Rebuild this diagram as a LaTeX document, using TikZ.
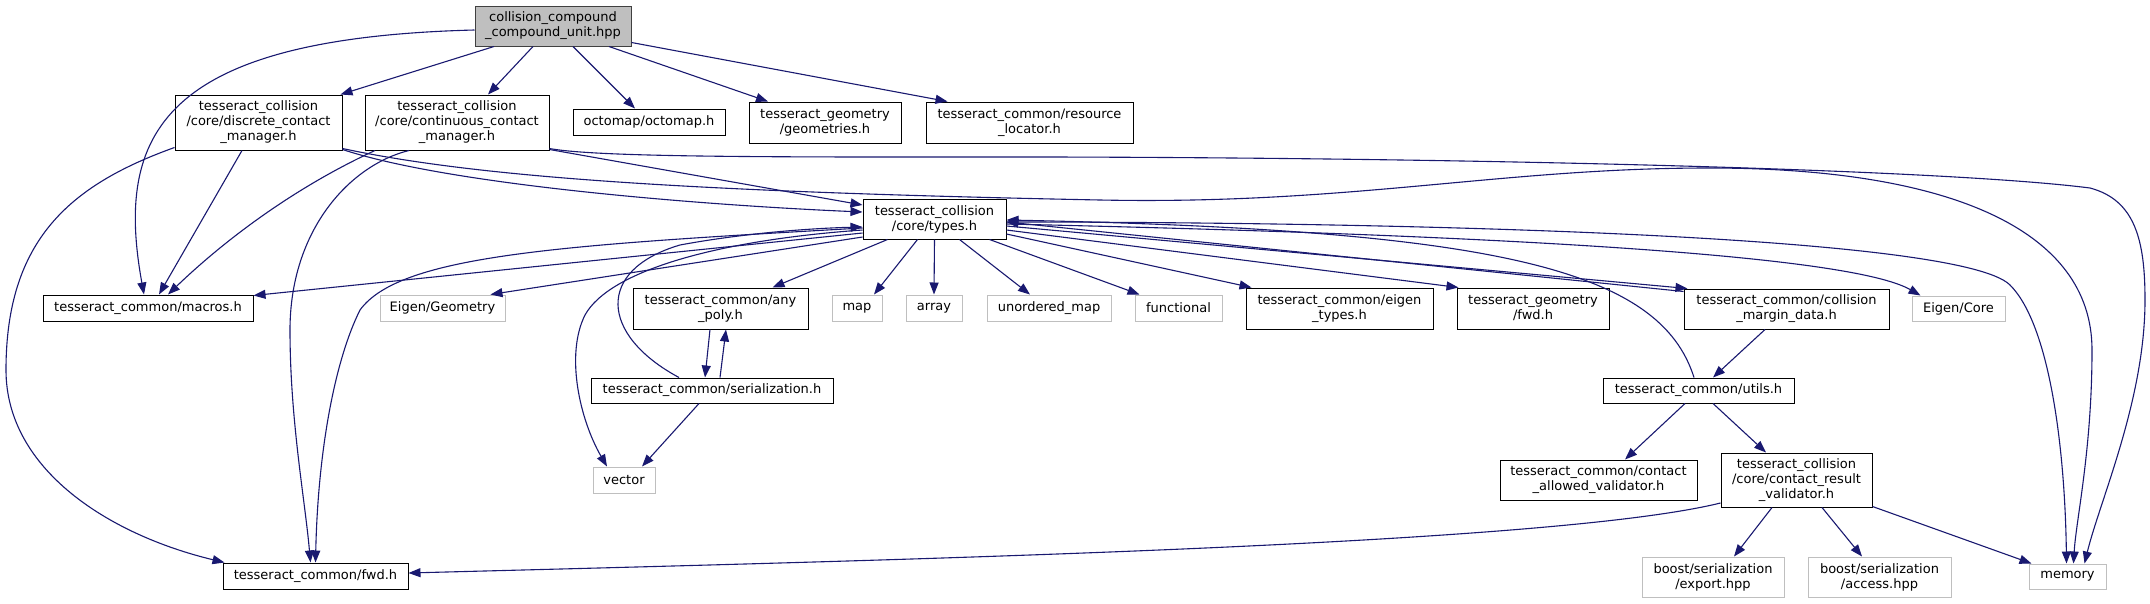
\documentclass[tikz,border=0pt]{standalone}
\usepackage{fontspec}
\setmainfont{DejaVu Sans}
\usetikzlibrary{arrows.meta}
\definecolor{edgeblue}{HTML}{191970}
\definecolor{greyline}{HTML}{BFBFBF}
\begin{document}
\begin{tikzpicture}[x=1pt,y=-1pt,
 box/.style={draw=black, line width=1pt, fill=white, inner sep=0pt, align=center, font=\fontsize{13}{15}\selectfont, text=black},
 doc/.style={box},
 ext/.style={box, draw=greyline},
 rootbox/.style={box, fill=greyline, draw=black!75},
 edge/.style={draw=edgeblue, line width=1.1pt, -{Triangle[length=12pt,width=9pt]}},
]
\useasboundingbox[fill=white] (0,0) rectangle (2150,603);

% nodes
\node[rootbox, minimum width=156pt, minimum height=40pt] (root) at (553,26) {collision\_compound\\\_compound\_unit.hpp};
\node[doc, minimum width=167pt, minimum height=55pt] (discrete) at (258.5,122.5) {tesseract\_collision\\/core/discrete\_contact\\\_manager.h};
\node[doc, minimum width=184pt, minimum height=55pt] (continuous) at (457,122.5) {tesseract\_collision\\/core/continuous\_contact\\\_manager.h};
\node[doc, minimum width=152pt, minimum height=26pt] (octomap) at (649,122) {octomap/octomap.h};
\node[doc, minimum width=152pt, minimum height=41pt] (geometries) at (825,122.5) {tesseract\_geometry\\/geometries.h};
\node[doc, minimum width=207pt, minimum height=41pt] (resource) at (1029.5,122.5) {tesseract\_common/resource\\\_locator.h};
\node[doc, minimum width=143pt, minimum height=40pt] (types) at (934.5,219) {tesseract\_collision\\/core/types.h};
\node[doc, minimum width=210pt, minimum height=26pt] (macros) at (148,308) {tesseract\_common/macros.h};
\node[ext, minimum width=125pt, minimum height=26pt] (eiggeo) at (442.5,308) {Eigen/Geometry};
\node[doc, minimum width=175pt, minimum height=41pt] (anypoly) at (720.5,308.5) {tesseract\_common/any\\\_poly.h};
\node[ext, minimum width=50pt, minimum height=26pt] (map) at (857,308) {map};
\node[ext, minimum width=56pt, minimum height=26pt] (array) at (934,308) {array};
\node[ext, minimum width=124pt, minimum height=26pt] (umap) at (1049,308) {unordered\_map};
\node[ext, minimum width=87pt, minimum height=26pt] (functional) at (1178.5,308) {functional};
\node[doc, minimum width=187pt, minimum height=41pt] (eigtypes) at (1339.5,308.5) {tesseract\_common/eigen\\\_types.h};
\node[doc, minimum width=152pt, minimum height=41pt] (geomfwd) at (1533,308.5) {tesseract\_geometry\\/fwd.h};
\node[doc, minimum width=205pt, minimum height=40pt] (margin) at (1786.5,309) {tesseract\_common/collision\\\_margin\_data.h};
\node[ext, minimum width=93pt, minimum height=25pt] (eigcore) at (1958.5,308.5) {Eigen/Core};
\node[doc, minimum width=242pt, minimum height=25pt] (serial) at (712,390.5) {tesseract\_common/serialization.h};
\node[doc, minimum width=191pt, minimum height=25pt] (utils) at (1698.5,390.5) {tesseract\_common/utils.h};
\node[ext, minimum width=62pt, minimum height=26pt] (vector) at (624,480) {vector};
\node[doc, minimum width=197pt, minimum height=40pt] (allowed) at (1598.5,480) {tesseract\_common/contact\\\_allowed\_validator.h};
\node[doc, minimum width=151pt, minimum height=54pt] (result) at (1796.5,480) {tesseract\_collision\\/core/contact\_result\\\_validator.h};
\node[doc, minimum width=185pt, minimum height=26pt] (fwd) at (315.5,576) {tesseract\_common/fwd.h};
\node[ext, minimum width=142pt, minimum height=40pt] (export) at (1713,577) {boost/serialization\\/export.hpp};
\node[ext, minimum width=143pt, minimum height=40pt] (access) at (1879.5,577) {boost/serialization\\/access.hpp};
\node[ext, minimum width=77pt, minimum height=25pt] (memory) at (2067.5,576.5) {memory};

% root edges
\draw[edge] ([xshift=-59pt]root.south) -- ([xshift=-2pt]discrete.north east);
\draw[edge] ([xshift=-20pt]root.south) -- ([xshift=31pt]continuous.north);
\draw[edge] ([xshift=20pt]root.south) -- ([xshift=-14pt]octomap.north);
\draw[edge] ([xshift=56pt]root.south) -- ([xshift=-57pt]geometries.north);
\draw[edge] ([yshift=4pt]root.south east) -- ([xshift=-82pt]resource.north);
\draw[edge] ([yshift=-4pt]root.west) .. controls (160,38) and (115,135) .. ([xshift=-4pt]macros.north);

% discrete edges
\draw[edge] ([xshift=-16.5pt]discrete.south) -- ([xshift=11pt]macros.north);
\draw[edge] ([yshift=3pt]discrete.south west) .. controls (70,185) and (6,240) .. (6,370) .. controls (6,470) and (110,535) .. ([xshift=2pt]fwd.north west);
\draw[edge] ([yshift=1pt]discrete.south east) .. controls (450,185) and (700,205) .. ([yshift=7pt]types.west);
\draw[edge] ([yshift=2pt]discrete.south east) .. controls (480,178) and (700,192) .. (1100,200) .. controls (1350,205) and (1500,168) .. (1709,168) .. controls (1950,168) and (2092,230) .. (2092,350) .. controls (2092,450) and (2076,520) .. ([xshift=6pt]memory.north);

% continuous edges
\draw[edge] ([yshift=1pt]continuous.south east) -- ([yshift=14pt]types.west);
\draw[edge] ([xshift=-82pt]continuous.south) .. controls (300,185) and (230,235) .. ([xshift=20pt]macros.north);
\draw[edge] ([xshift=-48pt]continuous.south) .. controls (350,165) and (290,230) .. (290,330) .. controls (290,420) and (305,500) .. ([xshift=-5pt]fwd.north);
\draw[edge] ([yshift=2pt]continuous.south east) .. controls (600,158) and (800,157) .. (1050,157) .. controls (1500,158) and (1950,170) .. (2090,188) .. controls (2135,200) and (2145,240) .. (2145,300) .. controls (2145,400) and (2100,500) .. ([xshift=17pt]memory.north);

% types edges
\draw[edge] ([yshift=-14pt]types.west) -- ([yshift=-1pt]macros.north east);
\draw[edge] ([yshift=-18pt]types.west) -- ([xshift=48pt]eiggeo.north);
\draw[edge] ([yshift=-9pt]types.west) .. controls (560,245) and (400,255) .. (360,310) .. controls (335,360) and (318,450) .. (fwd.north);
\draw[edge] ([yshift=-11pt]types.west) .. controls (720,240) and (610,270) .. (585,315) .. controls (565,355) and (580,420) .. ([xshift=-17pt]vector.north);
\draw[edge] ([xshift=-47pt]types.south) -- ([xshift=52pt]anypoly.north);
\draw[edge] ([xshift=-17pt]types.south) -- ([xshift=17pt]map.north);
\draw[edge] (types.south) -- (array.north);
\draw[edge] ([xshift=25pt]types.south) -- ([xshift=-19pt]umap.north);
\draw[edge] ([xshift=55pt]types.south) -- ([xshift=-39pt]functional.north);
\draw[edge] ([yshift=-15pt]types.east) -- ([xshift=-88pt]eigtypes.north);
\draw[edge] ([yshift=-11pt]types.east) -- ([xshift=2pt]geomfwd.north west);
\draw[edge] ([yshift=-7pt]types.east) -- ([xshift=4pt]margin.north west);
\draw[edge] ([yshift=-5pt]types.east) .. controls (1500,235) and (1850,255) .. ([xshift=-38pt]eigcore.north);
\draw[edge] ([yshift=-3pt]types.east) .. controls (1400,222) and (1960,235) .. (2010,285) .. controls (2050,325) and (2065,450) .. ([xshift=-1pt]memory.north);

% back edges to types
\draw[edge] ([yshift=-3pt]margin.north west) -- ([yshift=-3pt]types.east);
\draw[edge] ([xshift=-4.5pt]utils.north) .. controls (1660,270) and (1500,230) .. ([yshift=-1pt]types.east);
\draw[edge] ([xshift=-33pt]serial.north) .. controls (600,335) and (595,270) .. (680,245) .. controls (750,232) and (820,228) .. ([yshift=-8pt]types.west);

% any_poly / serialization
\draw[edge] ([xshift=-10.5pt]anypoly.south) -- ([xshift=-7pt]serial.north);
\draw[edge] ([xshift=8pt]serial.north) -- ([xshift=5.5pt]anypoly.south);
\draw[edge] ([xshift=-13pt]serial.south) -- ([xshift=18pt]vector.north);

% margin / utils / result
\draw[edge] ([xshift=-21.5pt]margin.south) -- ([xshift=14.5pt]utils.north);
\draw[edge] ([xshift=-13.5pt]utils.south) -- ([xshift=26.5pt]allowed.north);
\draw[edge] ([xshift=14.5pt]utils.south) -- ([xshift=-30.5pt]result.north);
\draw[edge] ([xshift=-24.5pt]result.south) -- ([xshift=21pt]export.north);
\draw[edge] ([xshift=25.5pt]result.south) -- ([xshift=-17.5pt]access.north);
\draw[edge] ([yshift=1pt]result.south east) -- ([xshift=3pt]memory.north west);
\draw[edge] ([yshift=-23pt]result.west) .. controls (1550,545) and (900,560) .. ([yshift=3pt]fwd.east);
\end{tikzpicture}
\end{document}
